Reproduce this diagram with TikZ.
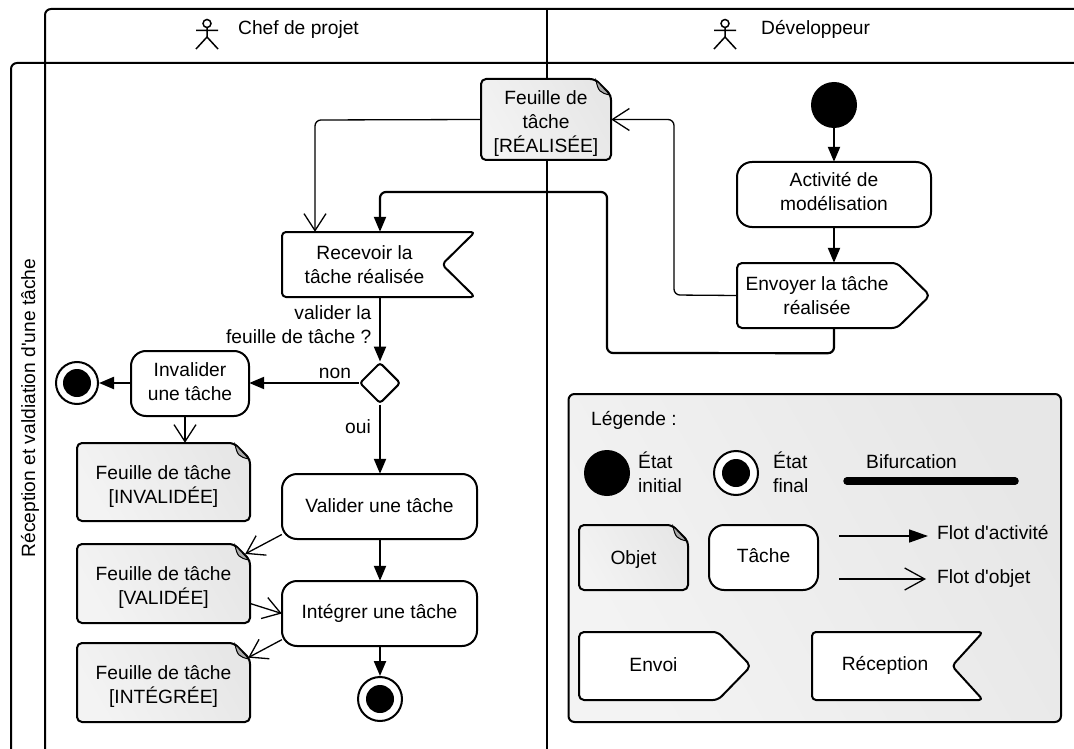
\documentclass[tikz,border=0pt]{standalone}
\usepackage{fontspec}
\newfontfamily\diagfont{Liberation Sans}
\usetikzlibrary{arrows.meta,shapes.geometric}
\definecolor{gradA}{HTML}{F3F3F3}
\definecolor{gradB}{HTML}{E7E7E7}
\definecolor{foldgray}{HTML}{ABABAB}
\tikzset{
  x=1pt,y=-1pt,
  every node/.style={font=\diagfont\fontsize{19.2}{24}\selectfont,text=black,align=center,inner sep=0pt},
  lane/.style={draw=black,line width=2pt},
  box/.style={draw=none,rectangle},
  outl/.style={draw=black,line width=2pt,line join=round},
  gradfill/.style={left color=gradA,right color=gradB,shading angle=120},
  flow/.style={draw=black,line width=2.2pt,-{Triangle[length=15pt,width=12pt]},rounded corners=6pt},
  objflow/.style={draw=black,line width=1.3pt,-{Straight Barb[length=17pt,width=22pt,line width=1.3pt]},rounded corners=6pt},
  lbl/.style={anchor=base west},
}
% object with folded corner: [text shift], name, x1,y1,x2,y2, text
\newcommand{\objbox}[7][yshift=-4pt]{%
  \pgfmathsetmacro{\fa}{#5-16}\pgfmathsetmacro{\fb}{#4+16}%
  \path[outl,gradfill,rounded corners=5pt] (#3,#4) -- (\fa,#4) -- (#5,\fb) -- (#5,#6) -- (#3,#6) -- cycle;
  \path[draw=black,line width=1pt,fill=foldgray] (\fa+1,#4+1) .. controls (\fa+3,#4+12) and (\fa+5,#4+14) .. (#5-1,\fb) -- cycle;
  \node[box,minimum width={(#5-#3)*1pt},minimum height={(#6-#4)*1pt}] (#2) at ({(#3+#5)/2},{(#4+#6)/2}) {};
  \node[#1] (#2-t) at (#2) {#7};
}
% activity: [text shift], name, x1,y1,x2,y2, text
\newcommand{\actbox}[7][yshift=0pt]{%
  \path[outl,fill=white,rounded corners=15pt] (#3,#4) rectangle (#5,#6);
  \node[box,minimum width={(#5-#3)*1pt},minimum height={(#6-#4)*1pt}] (#2) at ({(#3+#5)/2},{(#4+#6)/2}) {};
  \node[#1] (#2-t) at (#2) {#7};
}
% send signal: [text shift], name, x1,y1,x2 (body end),x3 (tip),y2, text
\newcommand{\sendbox}[8][yshift=0pt]{%
  \path[outl,fill=white,rounded corners=5pt] (#3,#4) -- (#5,#4) -- (#6,{(#4+#7)/2}) -- (#5,#7) -- (#3,#7) -- cycle;
  \node[box,minimum width={(#5-#3)*1pt},minimum height={(#7-#4)*1pt}] (#2) at ({(#3+#5)/2},{(#4+#7)/2}) {};
  \node[#1] (#2-t) at (#2) {#8};
}
% receive signal: [text shift], name, x1,y1,x2 (notch),x3 (tips),y2, text
\newcommand{\recvbox}[8][yshift=0pt]{%
  \path[outl,fill=white,rounded corners=4pt] (#3,#4) -- (#6,#4) -- (#5,{(#4+#7)/2}) -- (#6,#7) -- (#3,#7) -- cycle;
  \node[box,minimum width={(#5-#3)*1pt},minimum height={(#7-#4)*1pt}] (#2) at ({(#3+#5)/2},{(#4+#7)/2}) {};
  \node[#1] (#2-t) at (#2) {#8};
}
% actor at x (centre)
\newcommand{\actorfig}[1]{%
  \draw[line width=1.5pt] (#1,23.5) circle (4);
  \draw[line width=1.5pt] (#1-11,30.5) -- (#1+11,30.5) (#1,28) -- (#1,37) (#1-11,49) -- (#1,37) -- (#1+11,49);
}
\begin{document}
\begin{tikzpicture}
\useasboundingbox (0,0) rectangle (1074,749);
% swimlanes
\draw[lane,rounded corners=6pt] (1074,9) -- (45,9) -- (45,749);
\draw[lane,rounded corners=6pt] (11,749) -- (11,63) -- (1074,63);
\draw[lane] (547,9) -- (547,749);
\actorfig{207}
\actorfig{725}
\node[lbl] (lane1) at (238,34.5) {Chef de projet};
\node[lbl] (lane2) at (761,34.5) {Développeur};
\node[rotate=90] (lane0) at (30,408) {Réception et valdiation d'une tâche};

% main nodes
\objbox{objr}{481}{79}{611}{160}{Feuille de\\tâche\\{[}RÉALISÉE{]}}
\node[circle,fill=black,minimum size=46pt] (start) at (834,105) {};
\actbox[yshift=3pt]{model}{737}{162}{931}{227}{Activité de\\modélisation}
\sendbox{send}{737}{263}{897}{930}{328}{Envoyer la tâche\\réalisée}
\recvbox[xshift=2.5pt]{recv}{282}{232}{442}{475}{297}{Recevoir la\\tâche réalisée}
\node[diamond,draw=black,line width=2pt,fill=white,minimum size=41pt,rounded corners=3pt] (dec) at (380,383) {};
\actbox[yshift=1.5pt]{inval}{131}{351}{249}{416}{Invalider\\une tâche}
\node[circle,draw=black,line width=2pt,fill=white,minimum size=42pt] (endA) at (77,383) {};
\node[circle,fill=black,minimum size=28pt] (endAi) at (77,383) {};
\objbox{obji}{77}{443}{250}{521}{Feuille de tâche\\{[}INVALIDÉE{]}}
\actbox[yshift=1pt]{valid}{282}{474}{477}{539}{Valider une tâche}
\actbox{integ}{282}{581}{477}{646}{Intégrer une tâche}
\objbox{objv}{77}{544}{250}{623}{Feuille de tâche\\{[}VALIDÉE{]}}
\objbox{objg}{77}{643}{250}{722}{Feuille de tâche\\{[}INTÉGRÉE{]}}
\node[circle,draw=black,line width=2pt,fill=white,minimum size=44pt] (endB) at (380,699) {};
\node[circle,fill=black,minimum size=28pt] (endBi) at (380,699) {};

% connectors
\draw[flow] (start) -- (model.north -| start);
\draw[flow] (model.south -| start) -- (send.north -| start);
\draw[flow] (send.south -| start) -- ++(0,25) -- (607,353) -- (607,192) -- (380,192) -- (recv.north -| dec);
\draw[flow] (recv.south -| dec) -- (dec);
\draw[flow] (dec) -- (dec -| inval.east);
\draw[flow] (inval.west |- endA) -- (endA);
\draw[flow] (dec) -- (valid.north -| dec);
\draw[flow] (valid.south -| dec) -- (integ.north -| dec);
\draw[flow] (integ.south -| dec) -- (endB);
\draw[objflow] (objr.west) -- (315,120) -- ([xshift=-47pt]recv.north);
\draw[objflow] (send.west) -- (674,295) -- (674,119.5) -- (objr.east);
\draw[objflow] ([xshift=-5pt]inval.south) -- ([xshift=21.5pt]obji.north);
\draw[objflow] (valid.196) -- ([xshift=-5pt,yshift=-2pt]objv.20);
\draw[objflow] (objv.-13) -- (integ.180);
\draw[objflow] (integ.195) -- ([xshift=-2pt]objg.16);

% labels
\node[anchor=north east,align=right] (q) at (371.5,305) {valider la\\feuille de tâche ?};
\node (non) at (335,373) {non};
\node (oui) at (358,427) {oui};

% legend
\path[outl,gradfill,rounded corners=6pt] (568.5,394) rectangle (1061,722);
\node[lbl] (leg) at (591,425) {Légende :};
\node[circle,fill=black,minimum size=46pt] (lgi) at (607,473) {};
\node[anchor=west,align=left] (lgit) at (638,472) {État\\initial};
\node[circle,draw=black,line width=2pt,fill=white,minimum size=44pt] (lgf) at (736,473) {};
\node[circle,fill=black,minimum size=28pt] (lgfi) at (736,473) {};
\node[anchor=west,align=left] (lgft) at (773,472) {État\\final};
\node[lbl] (lgb) at (866,468) {Bifurcation};
\coordinate (barA) at (847,481);
\coordinate (barB) at (1015,481);
\draw[line width=7.5pt,line cap=round] (barA) -- (barB);
\objbox[yshift=-2pt]{lgo}{579}{525}{688}{590}{Objet}
\actbox[yshift=2pt]{lgt}{709}{525}{818}{590}{Tâche}
\node[lbl] (lgfa) at (937,539) {Flot d'activité};
\node[lbl] (lgfo) at (937,583) {Flot d'objet};
\coordinate (faA) at (839,536);
\coordinate (faB) at (928,536);
\coordinate (foA) at (839,579);
\coordinate (foB) at (926,579);
\draw[draw=black,line width=1.6pt,-{Triangle[length=19pt,width=13pt]}] (faA) -- (faB);
\draw[objflow,-{Straight Barb[length=20pt,width=22pt,line width=1.3pt]}] (foA) -- (foB);
\sendbox[xshift=5pt,yshift=1pt]{lge}{579}{632}{718}{751}{700}{Envoi}
\recvbox[xshift=3pt,yshift=1pt]{lgr}{812}{632}{952}{983}{700}{Réception}
\end{tikzpicture}
\end{document}
